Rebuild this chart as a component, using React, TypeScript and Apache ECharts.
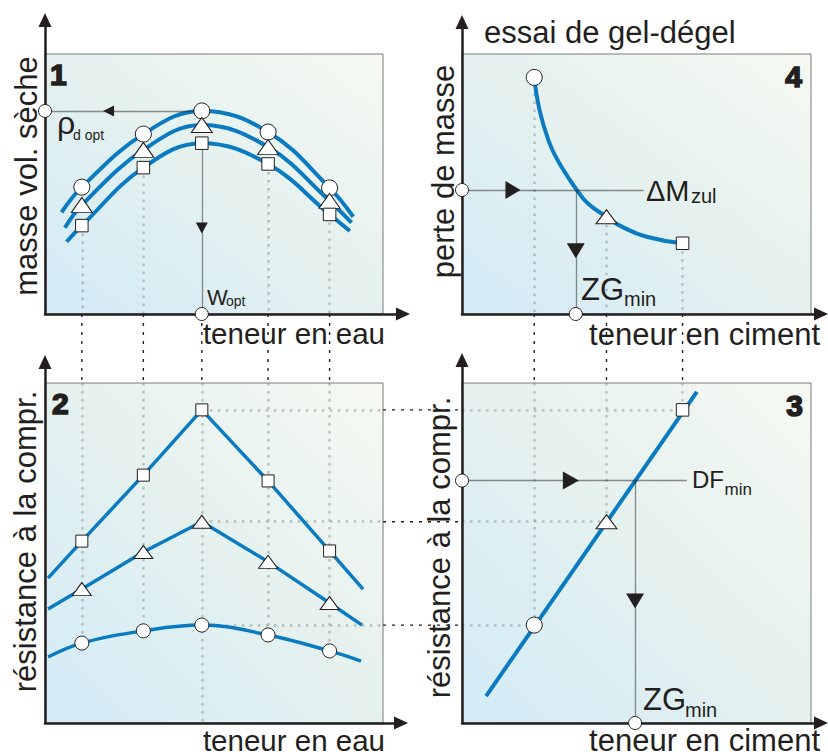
import React, { useEffect, useRef } from "react";
import * as echarts from "echarts";

// ---------- data (all values in % of each panel's framed box) ----------
// shared water-content positions, panels 1 and 2
const waterContent = [10.9, 29.1, 46.4, 66.0, 84.2];
// panel 1: dry density (circle / triangle / square series)
const densityCircle = [48.8, 69.2, 78.1, 70.0, 48.5];
const densityTriangle = [41.9, 63.1, 72.7, 64.2, 43.5];
const densitySquare = [34.0, 56.3, 65.7, 57.7, 38.3];
const densityStart = [[4.9, 39.1], [5.9, 33.2], [6.4, 27.8]];
const densityEnd = [[91.2, 37.4], [90.7, 35.1], [90.2, 31.9]];
// panel 2: compressive strength vs water content
const strengthSquare = [53.5, 72.9, 92.1, 71.2, 50.6];
const strengthTriangle = [39.4, 50.3, 59.2, 47.4, 35.3];
const strengthCircle = [23.5, 27.1, 28.8, 25.9, 21.2];
const strengthStart = [[0.9, 42.6], [0.9, 33.5], [0.9, 19.4]];
const strengthEnd = [[94.1, 39.4], [93.8, 28.8], [93.5, 18.2]];
// panels 3 and 4: cement content of the three mixes (circle, triangle, square)
const cementContent = [20.7, 41.4, 63.2];
// panel 4: mass loss in freeze-thaw test
const massLoss = [91.0, 37.4, 27.2];
const massLossCurveX = [20.7, 22.2, 25.0, 27.4, 30.3, 32.9, 36.0, 41.4, 45.8, 52.9, 63.2];
const massLossCurveY = [91.0, 78.5, 66.0, 59.2, 52.8, 47.7, 42.6, 37.4, 33.6, 29.7, 27.2];
// panel 3: strength vs cement content
const strengthCementLine = [[6.9, 7.9], [67.3, 97.4]];
// optimum / limit values
const optWater = waterContent[2];
const optDensity = densityCircle[2];
const allowedLoss = 47.7;
const minCementFrost = 32.6;
const minStrength = 71.3;
const minCementStrength = 49.6;
// annotation line ends and arrow positions
const lossLineEnd = 52.0;
const dfLineEnd = 64.4;
const arrowP1 = { left: 18.8, down: 33.1 };
const arrowP4 = { right: 14.6, down: 24.3 };
const arrowP3 = { right: 31.2, down: 35.9 };

// ---------- layout / style ----------
const BOXES = [
  { l: 45, t: 54, r: 383, b: 314, xEnd: 403, yEnd: 20 }, // panel 1
  { l: 45, t: 383, r: 383, b: 723, xEnd: 401, yEnd: 362 }, // panel 2
  { l: 462, t: 54, r: 811, b: 314, xEnd: 821, yEnd: 22 }, // panel 4
  { l: 462, t: 383, r: 811, b: 723, xEnd: 821, yEnd: 360 }, // panel 3
];
const BLUE = "#0a7bc0";
const INK = "#231f20";
const DOT = "#868b8c";
const FONT = '"Liberation Sans", Arial, sans-serif';

const peakStrength = [strengthCircle[2], strengthTriangle[2], strengthSquare[2]];

function buildOption() {
  const gradient = new echarts.graphic.LinearGradient(0, 1, 1, 0, [
    { offset: 0, color: "#d3ebf8" },
    { offset: 0.5, color: "#e4f1ef" },
    { offset: 1, color: "#f6f9f2" },
  ]);
  const grid = BOXES.map((b) => ({
    left: b.l,
    top: b.yEnd,
    width: b.xEnd - b.l,
    height: b.b - b.yEnd,
  }));
  const axisCommon = {
    type: "value",
    min: 0,
    axisTick: { show: false },
    axisLabel: { show: false },
    splitLine: { show: false },
    z: 3,
    axisLine: {
      show: true,
      lineStyle: { color: INK, width: 2.5 },
      symbol: ["none", "triangle"],
      symbolSize: [13, 14],
    },
  };
  const xAxis = BOXES.map((b, i) => ({
    ...axisCommon,
    gridIndex: i,
    max: ((b.xEnd - b.l) / (b.r - b.l)) * 100,
  }));
  const yAxis = BOXES.map((b, i) => ({
    ...axisCommon,
    gridIndex: i,
    max: ((b.b - b.yEnd) / (b.b - b.t)) * 100,
  }));

  const box = (g: number) => ({
    type: "line",
    xAxisIndex: g,
    yAxisIndex: g,
    data: [],
    symbol: "none",
    silent: true,
    z: 1,
    markArea: {
      silent: true,
      label: { show: false },
      itemStyle: { color: gradient, borderColor: "#7a7a7a", borderWidth: 1 },
      data: [[{ coord: [0, 0] }, { coord: [100, 100] }]],
    },
  });
  const curve = (g: number, data: number[][], smooth: number | boolean, width: number) => ({
    type: "line",
    xAxisIndex: g,
    yAxisIndex: g,
    data,
    smooth,
    symbol: "none",
    silent: true,
    z: 2,
    lineStyle: { color: BLUE, width, cap: "butt" },
  });
  const segs = (g: number, coords: number[][][], style: any, z = 2) => ({
    type: "lines",
    coordinateSystem: "cartesian2d",
    xAxisIndex: g,
    yAxisIndex: g,
    silent: true,
    z,
    data: coords.map((c) => ({ coords: c })),
    lineStyle: style,
  });
  const marks = (g: number, data: number[][], symbol: string, size: any, z = 4) => ({
    type: "scatter",
    xAxisIndex: g,
    yAxisIndex: g,
    data,
    symbol,
    symbolSize: size,
    silent: true,
    z,
    itemStyle: { color: "#ffffff", borderColor: INK, borderWidth: 1, opacity: 1 },
  });
  const arrow = (g: number, data: number[][], rotate: number, size: number[]) => ({
    type: "scatter",
    xAxisIndex: g,
    yAxisIndex: g,
    data,
    symbol: "triangle",
    symbolRotate: rotate,
    symbolSize: size,
    silent: true,
    z: 3,
    itemStyle: { color: INK, opacity: 1 },
  });
  const dotted = { color: DOT, width: 2.5, type: [2.5, 5.5] };
  const solid = { color: INK, width: 1.3 };
  const zip = (xs: number[], ys: number[]) => xs.map((x, i) => [x, ys[i]]);

  const series: any[] = [];
  // ---- panel 1 (grid 0)
  series.push(box(0));
  series.push(
    segs(
      0,
      waterContent
        .map((x, i) => [[x, densitySquare[i]], [x, 0]])
        .filter((_, i) => i !== 2),
      dotted
    )
  );
  [densityCircle, densityTriangle, densitySquare].forEach((ys, k) => {
    series.push(curve(0, [densityStart[k], ...zip(waterContent, ys), densityEnd[k]], 0.4, 4));
  });
  series.push(
    segs(0, [
      [[0, optDensity], [optWater, optDensity]],
      [[optWater, densitySquare[2]], [optWater, 0]],
    ], solid, 3)
  );
  series.push(arrow(0, [[arrowP1.left, optDensity]], 90, [11, 11]));
  series.push(arrow(0, [[optWater, arrowP1.down]], 180, [12, 11]));
  series.push(marks(0, zip(waterContent, densityCircle), "circle", 16));
  series.push(marks(0, zip(waterContent, densityTriangle), "triangle", [21, 15]));
  series.push(marks(0, zip(waterContent, densitySquare), "rect", 12.5));
  series.push(marks(0, [[0, optDensity], [optWater, 0]], "circle", 13, 5));

  // ---- panel 2 (grid 1)
  series.push(box(1));
  series.push(
    segs(
      1,
      [
        ...waterContent.map((x, i) => [[x, 100], [x, i === 2 ? 0 : strengthCircle[i]]]),
        ...peakStrength.map((y) => [[optWater, y], [100, y]]),
      ],
      dotted
    )
  );
  series.push(curve(1, [strengthStart[0], ...zip(waterContent, strengthSquare), strengthEnd[0]], false, 3.5));
  series.push(curve(1, [strengthStart[1], ...zip(waterContent, strengthTriangle), strengthEnd[1]], false, 3.5));
  series.push(curve(1, [strengthStart[2], ...zip(waterContent, strengthCircle), strengthEnd[2]], 0.4, 3.5));
  series.push(marks(1, zip(waterContent, strengthSquare), "rect", 12));
  series.push(marks(1, zip(waterContent, strengthTriangle), "triangle", [19, 13]));
  series.push(marks(1, zip(waterContent, strengthCircle), "circle", 14));

  // ---- panel 4 (grid 2)
  series.push(box(2));
  series.push(segs(2, cementContent.map((x, i) => [[x, massLoss[i]], [x, 0]]), dotted));
  series.push(curve(2, zip(massLossCurveX, massLossCurveY), 0.5, 4));
  series.push(
    segs(2, [
      [[0, allowedLoss], [lossLineEnd, allowedLoss]],
      [[minCementFrost, allowedLoss], [minCementFrost, 0]],
    ], solid, 3)
  );
  series.push(arrow(2, [[arrowP4.right, allowedLoss]], -90, [18, 15]));
  series.push(arrow(2, [[minCementFrost, arrowP4.down]], 180, [18, 15]));
  series.push(marks(2, [[cementContent[0], massLoss[0]]], "circle", 16));
  series.push(marks(2, [[cementContent[1], massLoss[1]]], "triangle", [21, 14]));
  series.push(marks(2, [[cementContent[2], massLoss[2]]], "rect", 12.5));
  series.push(marks(2, [[0, allowedLoss], [minCementFrost, 0]], "circle", 13, 5));

  // ---- panel 3 (grid 3)
  series.push(box(3));
  series.push(
    segs(
      3,
      [
        ...cementContent.map((x, i) => [[x, 100], [x, peakStrength[i]]]),
        ...cementContent.map((x, i) => [[0, peakStrength[i]], [x, peakStrength[i]]]),
      ],
      dotted
    )
  );
  series.push(curve(3, strengthCementLine, false, 4));
  series.push(
    segs(3, [
      [[0, minStrength], [dfLineEnd, minStrength]],
      [[minCementStrength, minStrength], [minCementStrength, 0]],
    ], solid, 3)
  );
  series.push(arrow(3, [[arrowP3.right, minStrength]], -90, [18, 16]));
  series.push(arrow(3, [[minCementStrength, arrowP3.down]], 180, [18, 15]));
  series.push(marks(3, [[cementContent[0], peakStrength[0]]], "circle", 16));
  series.push(marks(3, [[cementContent[1], peakStrength[1]]], "triangle", [21, 14]));
  series.push(marks(3, [[cementContent[2], peakStrength[2]]], "rect", 12.5));
  series.push(marks(3, [[0, minStrength], [minCementStrength, 0]], "circle", 13, 5));

  return { animation: false, grid, xAxis, yAxis, series };
}

const text = (
  t: string,
  x: number,
  y: number,
  size: number,
  align: string = "left",
  opts: { rot?: number; bold?: boolean } = {}
) => ({
  type: "text",
  x,
  y,
  rotation: opts.rot || 0,
  z: 10,
  silent: true,
  style: {
    text: t,
    fontSize: size,
    fontFamily: FONT,
    fontWeight: opts.bold ? "bold" : "normal",
    fill: INK,
    stroke: opts.bold ? INK : undefined,
    lineWidth: opts.bold ? 1.6 : 0,
    align,
    verticalAlign: "middle",
    textAlign: align,
    textVerticalAlign: "middle",
  },
});

export default function App() {
  const ref = useRef<HTMLDivElement>(null);
  useEffect(() => {
    const chart = echarts.init(ref.current as HTMLDivElement, null, { renderer: "svg" });
    chart.setOption(buildOption() as any);
    const px = (g: number, p: number[]) =>
      chart.convertToPixel({ gridIndex: g } as any, p) as unknown as number[];
    const connector = (a: number[], b: number[]) => ({
      type: "line",
      z: 1.5,
      silent: true,
      shape: { x1: a[0], y1: a[1], x2: b[0], y2: b[1] },
      style: { stroke: INK, lineWidth: 1.4, lineDash: [3, 6] },
    });
    const connectors = [
      ...waterContent.map((x) => connector(px(0, [x, 0]), px(1, [x, 100]))),
      ...peakStrength.map((y) => connector(px(1, [100, y]), px(3, [0, y]))),
      ...cementContent.map((x) => connector(px(2, [x, 0]), px(3, [x, 100]))),
    ];
    const R = Math.PI / 2;
    const labels = [
      text("masse vol. sèche", 26, 176, 31, "center", { rot: R }),
      text("1", 50, 74, 30, "left", { bold: true }),
      text("ρ", 57, 123, 32),
      text("d opt", 73, 135, 14),
      text("W", 207, 297, 22),
      text("opt", 226, 301, 14),
      text("teneur en eau", 385, 333, 29.5, "right"),
      text("essai de gel-dégel", 484, 32.5, 31),
      text("4", 802, 76.5, 30, "right", { bold: true }),
      text("perte de masse", 443, 171.5, 31, "center", { rot: R }),
      text("ΔM", 646, 190.5, 29),
      text("zul", 691, 196, 20),
      text("ZG", 581, 289, 31),
      text("min", 624, 299, 20),
      text("teneur en ciment", 820, 334, 31, "right"),
      text("2", 52, 403, 30, "left", { bold: true }),
      text("résistance à la compr.", 25, 541.5, 31, "center", { rot: R }),
      text("teneur en eau", 385, 740.5, 29.5, "right"),
      text("3", 803, 405, 30, "right", { bold: true }),
      text("résistance à la compr.", 439, 547.5, 31, "center", { rot: R }),
      text("DF", 692, 479.5, 24),
      text("min", 724.5, 489, 17),
      text("ZG", 643, 699.5, 31),
      text("min", 685, 709.5, 20),
      text("teneur en ciment", 820, 740, 31, "right"),
    ];
    chart.setOption({ graphic: [...connectors, ...labels] } as any);
    return () => chart.dispose();
  }, []);
  return (
    <div
      ref={ref}
      style={{ position: "absolute", left: 0, top: 0, width: 828, height: 756, background: "#ffffff" }}
    />
  );
}
